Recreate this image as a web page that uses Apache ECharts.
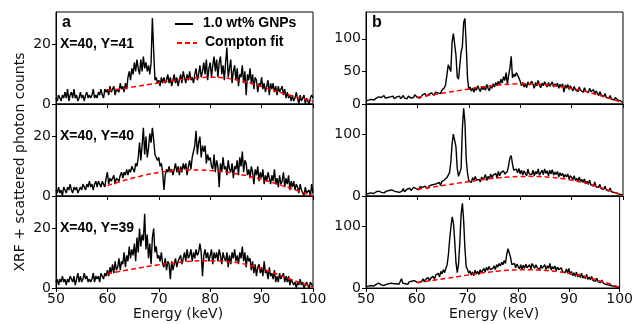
<!DOCTYPE html>
<html><head><meta charset="utf-8">
<script src="https://cdn.jsdelivr.net/npm/echarts@6/dist/echarts.min.js"></script>
<style>html,body{margin:0;padding:0;background:#fff}#c{width:636px;height:324px}</style>
</head><body><div id="c"></div>
<script>
// ---- data ----
const energyStart = 50, energyStep = 0.25;   // spectra sampled every 0.25 keV from 50 to 100 keV
const xTicks = [50, 60, 70, 80, 90, 100];
const panelTitles = ['X=40, Y=41', 'X=40, Y=40', 'X=40, Y=39'];
const legendNames = ['1.0 wt% GNPs', 'Compton fit'];

const specA41 = [
2,1,3,2, 1,3,2,4, 2,5,1,3, 4,2,5,2, 3,1,2,4, 2,3,1,3, 4,2,3,2, 3,5,2,3, 2,4,3,5, 3,2,5,4,
5,3,6,4, 4,6,3,5, 5,4,7,5, 6,4,7,5, 9,11,8,12, 10,14,11,15, 12,10,15,11, 16,12,14,11, 13,10,14,29, 18,8,9,7,
8,6,9,7, 9,7,8,10, 7,9,6,8, 10,7,9,6, 8,10,7,11, 9,7,10,8, 11,8,9,7, 10,12,8,10, 13,9,11,14, 10,15,8,12,
14,9,13,16, 11,15,9,14, 16,10,13,8, 14,19,9,12, 15,7,11,13, 8,12,6,10, 9,13,7,11, 3,10,8,12, 7,10,5,9, 8,4,7,6,
9,5,7,4, 6,8,3,7, 5,7,4,6, 3,6,4,5, 6,3,5,2, 4,2,3,1, 3,1,2,4, 2,0,3,1, 1,3,0,2, 1,0,2,3, 2];
const specA40 = [
2,1,3,1, 2,0,3,2, 1,3,2,4, 2,1,3,2, 3,1,2,3, 2,4,3,2, 4,3,5,3, 4,2,4,5, 3,5,4,3, 5,4,3,6,
8,4,6,5, 5,7,4,6, 6,5,7,8, 6,8,7,9, 7,9,8,10, 9,8,11,10, 13,18,12,17, 23,14,20,13, 16,21,18,23, 19,14,13,12,
13,10,11,8, 2,7,9,8, 10,8,9,7, 9,11,8,10, 7,10,8,11, 9,11,7,10, 12,9,13,15, 17,22,14,18, 20,13,17,15, 17,11,14,12,
13,10,9,14, 8,12,10,3, 11,8,13,9, 10,7,12,9, 8,11,6,10, 9,12,7,13, 10,15,8,12, 11,7,9,6, 10,8,4,9, 7,10,5,8,
6,9,4,7, 5,8,6,4, 7,5,9,4, 6,3,7,4, 5,8,3,6, 4,7,2,5, 3,5,2,4, 3,1,4,2, 2,0,3,1, 1,2,0,4, 1];
const specA39 = [
2,3,1,3, 2,4,2,3, 1,3,2,4, 3,2,4,1, 3,5,2,4, 2,3,5,3, 4,2,3,2, 3,5,2,4, 3,4,2,5, 4,3,5,4,
6,4,7,5, 8,5,9,6, 7,10,6,9, 8,12,7,11, 9,14,10,13, 11,15,9,17, 12,20,14,18, 16,25,13,18, 10,15,8,17, 20,12,14,10,
11,9,12,8, 7,10,6,9, 8,3,9,6, 8,10,7,9, 9,11,8,10, 12,9,13,10, 11,13,9,12, 10,13,11,12, 15,12,4,11, 13,10,12,9,
11,13,8,12, 10,12,9,13, 11,8,12,10, 9,12,7,11, 8,12,10,13, 9,11,8,12, 10,14,9,12, 7,11,9,10, 6,9,5,8, 4,7,8,5,
7,4,9,5, 6,3,7,4, 5,3,6,2, 4,2,5,3, 3,5,2,4, 2,4,1,3, 3,1,2,0, 2,1,3,1, 2,0,1,2, 1,0,2,1, 1];
const specB41 = [
5,8,6,9, 7,10,6,8, 9,7,11,8, 10,8,13,9, 8,10,7,11, 9,12,8,10, 11,9,12,8, 10,13,9,11, 8,12,10,9, 12,10,14,11,
10,13,9,12, 14,11,16,12, 13,15,12,17, 15,13,18,16, 17,19,16,21, 20,25,30,45, 60,62,50,95, 108,110,75,42, 38,40,80,88, 125,131,90,40,
22,26,20,24, 18,25,21,28, 23,19,27,22, 26,21,30,24, 20,28,24,31, 26,33,28,35, 30,38,32,42, 36,48,30,44, 55,73,40,46, 42,48,44,40,
35,28,33,26, 31,25,34,29, 27,35,30,24, 33,28,36,29, 25,32,28,34, 30,26,33,27, 29,34,26,31, 27,32,24,30, 26,31,18,29, 24,30,22,28,
25,20,27,22, 24,19,26,21, 23,18,25,20, 21,17,24,19, 18,22,15,20, 17,13,19,14, 15,11,16,10, 12,9,13,8, 9,6,10,7, 6,4,5,3, 2];
const specB40 = [
3,6,4,7, 5,8,4,6, 7,4,8,5, 6,9,5,7, 8,5,9,6, 10,13,8,11, 7,10,6,9, 8,12,7,10, 11,8,13,9, 10,14,11,12,
13,10,15,12, 14,11,16,13, 12,16,14,18, 15,19,16,20, 18,22,17,24, 21,26,23,30, 28,38,55,85, 101,98,80,45, 32,29,45,110, 143,120,60,37,
25,28,22,30, 24,32,26,29, 27,23,31,26, 29,35,25,32, 28,36,30,34, 31,37,29,40, 33,38,35,41, 36,34,40,50, 62,66,52,42, 40,44,38,45,
36,42,34,41, 38,33,44,36, 39,35,42,33, 40,36,44,34, 38,42,35,44, 37,41,33,42, 36,43,34,39, 35,40,31,38, 33,37,30,35, 31,36,28,33,
30,27,33,25, 29,24,31,23, 27,22,28,20, 24,19,26,18, 21,16,23,15, 18,14,19,12, 15,11,16,10, 12,8,13,7, 9,6,8,5, 6,3,4,2, 1];
const specB39 = [
2,5,3,6, 4,7,3,5, 6,4,8,5, 5,8,4,7, 6,4,7,5, 8,5,7,6, 7,9,6,8, 15,8,10,7, 9,6,10,8, 11,8,12,9,
10,13,9,12, 11,15,10,14, 13,17,12,16, 15,19,14,21, 20,24,18,27, 23,30,25,32, 38,55,80,100, 116,105,75,40, 25,40,75,120, 138,110,65,35,
30,24,28,21, 26,20,29,23, 27,22,30,25, 28,32,26,34, 29,35,30,33, 32,36,30,38, 34,40,36,42, 38,45,40,55, 64,66,50,38, 36,40,33,39,
35,31,38,30, 37,32,39,33, 34,38,31,40, 36,32,38,33, 35,30,37,32, 33,38,30,36, 32,40,29,35, 31,36,28,34, 30,27,33,26, 29,25,31,24,
32,22,27,20, 25,19,26,18, 23,17,24,16, 20,15,22,14, 18,13,19,12, 15,11,16,10, 12,9,13,8, 10,6,9,5, 7,4,6,3, 4,2,3,1, 1];

const fitEnergy = [60,62,64,66,68,70,72,74,76,78,80,82,84,86,88,90,92,94,96,98,100];
const fitA41 = [4.6,5.0,5.5,6.0,6.6,7.1,7.7,8.2,8.6,8.9,9.0,8.9,8.5,7.8,6.9,5.9,4.8,3.7,2.7,1.8,1.0];
const fitA40 = [3.5,4.6,5.6,6.5,7.3,7.9,8.4,8.7,8.8,8.8,8.6,8.3,7.8,7.2,6.5,5.6,4.6,3.5,2.4,1.2,0.0];
const fitA39 = [4.8,5.5,6.1,6.7,7.3,7.8,8.3,8.7,9.0,9.2,9.2,9.1,8.8,8.3,7.5,6.5,5.3,4.0,2.7,1.5,0.4];
const fitB41 = [10.5,13,15.5,18,20.5,23,25.5,27.5,29.2,30.5,31,30.8,30,28.6,26.5,23.8,20.5,16.5,12,7,2];
const fitB40 = [11,13.5,16,18.5,21,23.5,26,28,29.8,31,31.8,32,31.6,30.5,28.6,26,22.5,18,12.8,6.8,0.5];
const fitB39 = [8.5,11,13.5,16,18.5,21,23.5,25.7,27.5,28.8,29.5,29.7,29.3,28.3,26.5,24,20.8,16.8,12,6.8,1];

const yMaxes = [31, 31, 31, 141, 150, 150];
const yTickSets = [[0,20],[0,20],[0,20],[0,50,100],[0,100],[0,100]];

// ---- chart ----
const spectra = [specA41, specA40, specA39, specB41, specB40, specB39];
const fits = [fitA41, fitA40, fitA39, fitB41, fitB40, fitB39];
const pair = (xs, ys) => ys.map((v, i) => [xs[i], v]);
const specX = specA41.map((_, i) => energyStart + i * energyStep);

const lefts = [56, 56, 56, 366, 366, 366];
const tops = [12, 104, 196, 12, 104, 196];
const grids = [], xAxes = [], yAxes = [], series = [];
const tickFont = {fontFamily: 'DejaVu Sans', fontSize: 14, color: '#111'};
for (let k = 0; k < 6; k++) {
  const bottomRow = (k % 3) === 2;
  grids.push({left: lefts[k], top: tops[k], width: 257, height: 92, show: true,
    borderColor: '#000', borderWidth: 1, backgroundColor: 'transparent'});
  xAxes.push({type: 'value', gridIndex: k, min: 50, max: 100, interval: 10,
    axisLine: {show: true, lineStyle: {color: '#000', width: 1}},
    axisTick: {show: true, inside: false, length: 4, lineStyle: {color: '#000'}},
    axisLabel: Object.assign({show: bottomRow, margin: 4, customValues: xTicks}, tickFont),
    splitLine: {show: false}});
  yAxes.push({type: 'value', gridIndex: k, min: 0, max: yMaxes[k],
    axisLine: {show: true, lineStyle: {color: '#000', width: 1}},
    axisTick: {show: true, inside: false, length: 4, lineStyle: {color: '#000'}, customValues: yTickSets[k]},
    axisLabel: Object.assign({show: true, margin: 5, customValues: yTickSets[k],
      formatter: v => (yTickSets[k].indexOf(v) >= 0 ? String(v) : '')}, tickFont),
    splitLine: {show: false}});
  series.push({type: 'line', name: legendNames[0], xAxisIndex: k, yAxisIndex: k,
    data: pair(specX, spectra[k]), showSymbol: false, animation: false,
    lineStyle: {color: '#000', width: 1.4}, itemStyle: {color: '#000'}, clip: true});
  series.push({type: 'line', name: legendNames[1], xAxisIndex: k, yAxisIndex: k,
    data: pair(fitEnergy, fits[k]), showSymbol: false, smooth: true, animation: false,
    lineStyle: {color: '#ff0000', width: 1.5, type: [5, 3]}, itemStyle: {color: '#ff0000'}, clip: true});
}

const boldTxt = (x, y, text, size) => ({type: 'text', left: x, top: y,
  style: {text: text, font: 'bold ' + size + 'px "Liberation Sans", Arial, sans-serif', fill: '#000'}});
const graphic = [
  boldTxt(62, 15, 'a', 16),
  boldTxt(372, 15, 'b', 16),
  boldTxt(60, 37, panelTitles[0], 14),
  boldTxt(60, 129, panelTitles[1], 14),
  boldTxt(60, 221, panelTitles[2], 14),
  {type: 'line', shape: {x1: 175, y1: 24, x2: 193, y2: 24}, style: {stroke: '#000', lineWidth: 2}},
  {type: 'line', shape: {x1: 177, y1: 43, x2: 197, y2: 43}, style: {stroke: '#ff0000', lineWidth: 2, lineDash: [5, 3]}},
  boldTxt(203, 16, legendNames[0], 14),
  boldTxt(205, 35, legendNames[1], 14),
  {type: 'text', x: 178, y: 314, style: {text: 'Energy (keV)', font: '14px "DejaVu Sans"', fill: '#111', align: 'center', verticalAlign: 'middle'}},
  {type: 'text', x: 494, y: 314, style: {text: 'Energy (keV)', font: '14px "DejaVu Sans"', fill: '#111', align: 'center', verticalAlign: 'middle'}},
  {type: 'text', x: 20, y: 162, rotation: Math.PI / 2, style: {text: 'XRF + scattered photon counts', font: '14px "DejaVu Sans"', fill: '#111', align: 'center', verticalAlign: 'middle'}}
];

const chart = echarts.init(document.getElementById('c'), null, {renderer: 'canvas'});
chart.setOption({animation: false, grid: grids, xAxis: xAxes, yAxis: yAxes, series: series, graphic: graphic});
</script></body></html>
